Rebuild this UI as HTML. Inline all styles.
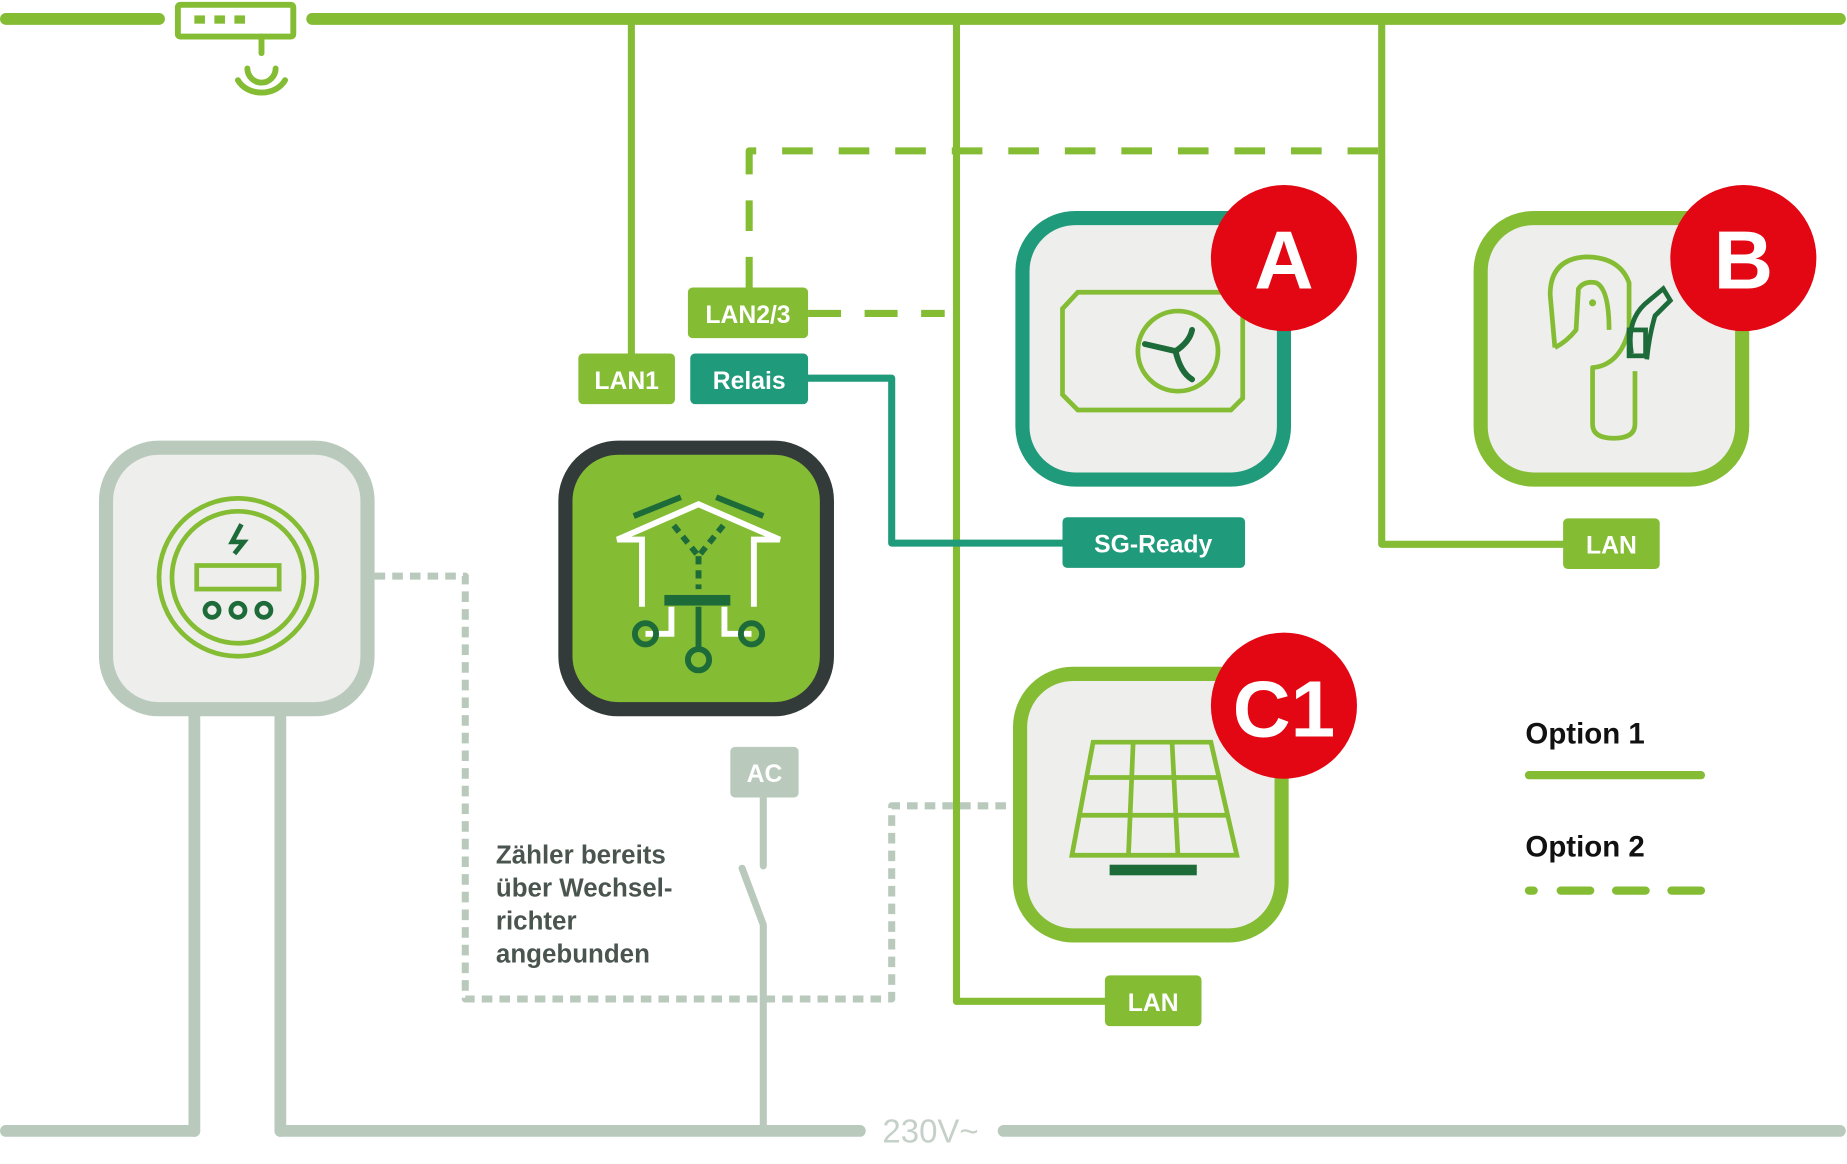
<!DOCTYPE html>
<html><head><meta charset="utf-8"><style>
html,body{margin:0;padding:0;background:#fff;}
svg{display:block;}
text{font-family:"Liberation Sans",sans-serif;font-weight:bold;}
</style></head><body>
<svg width="1847" height="1164" viewBox="0 0 1568 988" xmlns="http://www.w3.org/2000/svg">
<g fill="none" stroke-linecap="round" stroke-linejoin="round">
<line x1="5" y1="16" x2="135" y2="16" stroke="#84bc34" stroke-width="10"/>
<line x1="265" y1="16" x2="1562" y2="16" stroke="#84bc34" stroke-width="10"/>
<rect x="151" y="4" width="98" height="27" rx="2" stroke="#84bc34" stroke-width="5"/>
<line x1="222" y1="31" x2="222" y2="45" stroke="#84bc34" stroke-width="5"/>
<path d="M210 58 A12 12 0 0 0 234 58" stroke="#84bc34" stroke-width="5"/>
<path d="M202 68 A22 18 0 0 0 242 68" stroke="#84bc34" stroke-width="5"/>
<line x1="536" y1="16" x2="536" y2="300" stroke="#84bc34" stroke-width="6"/>
<line x1="812" y1="16" x2="812" y2="850" stroke="#84bc34" stroke-width="6"/>
<polyline points="1173,16 1173,462 1327,462" stroke="#84bc34" stroke-width="6"/>
<polyline points="812,850 940,850" stroke="#84bc34" stroke-width="6"/>
<polyline points="1170,128 636,128 636,244" stroke="#84bc34" stroke-width="6" stroke-dasharray="26,22" stroke-linecap="butt"/>
<line x1="686" y1="266" x2="802" y2="266" stroke="#84bc34" stroke-width="6" stroke-dasharray="28,20" stroke-linecap="butt"/>
<polyline points="686,321 757,321 757,461 902,461" stroke="#1f9a7a" stroke-width="6"/>
<polyline points="318,489 395,489 395,848 757,848 757,684 860,684" stroke="#b9cabd" stroke-width="6" stroke-dasharray="9,6" stroke-linecap="butt"/>
<line x1="5" y1="960" x2="165" y2="960" stroke="#b9cabd" stroke-width="10"/>
<line x1="238" y1="960" x2="730" y2="960" stroke="#b9cabd" stroke-width="10"/>
<line x1="852" y1="960" x2="1562" y2="960" stroke="#b9cabd" stroke-width="10"/>
<line x1="165" y1="600" x2="165" y2="960" stroke="#b9cabd" stroke-width="10"/>
<line x1="238" y1="600" x2="238" y2="960" stroke="#b9cabd" stroke-width="10"/>
<polyline points="648,677 648,735" stroke="#b9cabd" stroke-width="6"/>
<polyline points="630,737 648,785 648,960" stroke="#b9cabd" stroke-width="6"/>
<line x1="1298" y1="658" x2="1444" y2="658" stroke="#84bc34" stroke-width="7"/>
<line x1="1298" y1="756" x2="1302" y2="756" stroke="#84bc34" stroke-width="7"/>
<line x1="1325" y1="756" x2="1350" y2="756" stroke="#84bc34" stroke-width="7"/>
<line x1="1372" y1="756" x2="1397" y2="756" stroke="#84bc34" stroke-width="7"/>
<line x1="1419" y1="756" x2="1444" y2="756" stroke="#84bc34" stroke-width="7"/>
</g>
<g fill="#84bc34">
<rect x="165" y="13" width="9" height="7"/><rect x="182" y="13" width="9" height="7"/><rect x="199" y="13" width="9" height="7"/>
</g>
<rect x="491" y="300" width="82" height="43" rx="4" fill="#84bc34"/>
<text x="532" y="330" font-size="21" fill="#fff" text-anchor="middle">LAN1</text>
<rect x="586" y="300" width="100" height="43" rx="4" fill="#1f9a7a"/>
<text x="636" y="330" font-size="21" fill="#fff" text-anchor="middle">Relais</text>
<rect x="584" y="244" width="102" height="43" rx="4" fill="#84bc34"/>
<text x="635" y="274" font-size="21" fill="#fff" text-anchor="middle">LAN2/3</text>
<rect x="902" y="439" width="155" height="43" rx="4" fill="#1f9a7a"/>
<text x="979" y="469" font-size="21" fill="#fff" text-anchor="middle">SG-Ready</text>
<rect x="1327" y="440" width="82" height="43" rx="4" fill="#84bc34"/>
<text x="1368" y="470" font-size="21" fill="#fff" text-anchor="middle">LAN</text>
<rect x="938" y="828" width="82" height="43" rx="4" fill="#84bc34"/>
<text x="979" y="858" font-size="21" fill="#fff" text-anchor="middle">LAN</text>
<rect x="620" y="634" width="58" height="43" rx="4" fill="#b9cabd"/>
<text x="649" y="664" font-size="21" fill="#fff" text-anchor="middle">AC</text>
<rect x="868" y="185" width="222" height="222" rx="45" fill="#eeeeec" stroke="#1f9a7a" stroke-width="12"/>
<rect x="1257" y="185" width="222" height="222" rx="45" fill="#eeeeec" stroke="#84bc34" stroke-width="12"/>
<rect x="866" y="572" width="222" height="222" rx="45" fill="#eeeeec" stroke="#84bc34" stroke-width="12"/>
<rect x="480" y="380" width="222" height="222" rx="45" fill="#84bc34" stroke="#333a3a" stroke-width="12"/>
<rect x="90" y="380" width="222" height="222" rx="45" fill="#eeeeec" stroke="#b9cabd" stroke-width="12"/>
<g fill="none" stroke="#84bc34" stroke-width="4">
<polygon points="915,248 1045,248 1055,258 1055,338 1045,348 915,348 902,335 902,262"/>
<circle cx="1000" cy="298" r="34"/>
</g>
<g fill="none" stroke="#1e6b3a" stroke-width="5" stroke-linecap="round">
<path d="M998 298 L972 292"/><path d="M998 298 Q1002 316 1012 322"/><path d="M998 298 Q1010 290 1012 280"/>
</g>
<g fill="none" stroke="#84bc34" stroke-width="4" stroke-linejoin="round">
<path d="M1320 295 L1316 250 Q1316 220 1346 218 Q1375 218 1383 240 L1383 280 Q1375 310 1352 312 L1352 360 Q1352 372 1370 372 Q1388 372 1388 360 L1388 315"/>
<path d="M1320 295 Q1330 290 1338 280 L1340 245 Q1345 238 1355 240 Q1366 245 1366 280"/>
</g>
<circle cx="1352" cy="257" r="3" fill="#84bc34"/>
<g fill="none" stroke="#1e6b3a" stroke-width="4"><path d="M1385 300 Q1380 270 1400 255 L1412 245 L1418 255 L1405 268 Q1400 285 1398 305"/><rect x="1383" y="280" width="14" height="22"/></g>
<g fill="none" stroke="#84bc34" stroke-width="4">
<polygon points="928,630 1028,630 1050,726 910,726"/>
<line x1="922" y1="660" x2="1036" y2="660"/><line x1="916" y1="692" x2="1043" y2="692"/>
<line x1="962" y1="630" x2="958" y2="726"/><line x1="995" y1="630" x2="1000" y2="726"/>
</g>
<rect x="942" y="734" width="74" height="9" fill="#1e6b3a"/>
<g fill="none" stroke="#fff" stroke-width="5">
<polyline points="545,515 545,458 524,458 593,428 662,458 640,458 640,515"/>
<polyline points="570,515 570,538 548,538"/><polyline points="615,515 615,538 638,538"/>
</g>
<g fill="none" stroke="#1e6b3a" stroke-width="5">
<line x1="538" y1="438" x2="578" y2="422"/><line x1="608" y1="422" x2="648" y2="438"/>
<path d="M572 446 L593 472 L614 446" stroke-dasharray="7,5"/>
<line x1="593" y1="472" x2="593" y2="500" stroke-dasharray="7,5"/>
<line x1="593" y1="515" x2="593" y2="550"/>
<circle cx="548" cy="538" r="9"/><circle cx="638" cy="538" r="9"/><circle cx="593" cy="560" r="9"/>
</g>
<rect x="564" y="505" width="56" height="9" fill="#1e6b3a"/>
<g fill="none" stroke="#84bc34" stroke-width="4">
<circle cx="202" cy="490" r="67"/><circle cx="202" cy="490" r="56"/>
<rect x="167" y="480" width="70" height="20"/>
</g>
<g fill="none" stroke="#1e6b3a" stroke-width="4">
<circle cx="180" cy="518" r="6"/><circle cx="202" cy="518" r="6"/><circle cx="224" cy="518" r="6"/>
<polyline points="205,445 197,460 207,460 199,470"/>
</g>
<circle cx="1090" cy="219" r="62" fill="#e30613"/>
<text x="1090" y="245" font-size="70" fill="#fff" text-anchor="middle">A</text>
<circle cx="1480" cy="219" r="62" fill="#e30613"/>
<text x="1480" y="245" font-size="70" fill="#fff" text-anchor="middle">B</text>
<circle cx="1090" cy="599" r="62" fill="#e30613"/>
<text x="1090" y="625" font-size="68" fill="#fff" text-anchor="middle">C1</text>
<g font-size="22" fill="#4a5550">
<text x="421" y="733">Zähler bereits</text>
<text x="421" y="761">über Wechsel-</text>
<text x="421" y="789">richter</text>
<text x="421" y="817">angebunden</text>
</g>
<text x="1295" y="631" font-size="25" fill="#111">Option 1</text>
<text x="1295" y="727" font-size="25" fill="#111">Option 2</text>
<text x="790" y="970" font-size="28" fill="#c5d1c8" text-anchor="middle" style="font-weight:normal">230V~</text>
</svg>
</body></html>
